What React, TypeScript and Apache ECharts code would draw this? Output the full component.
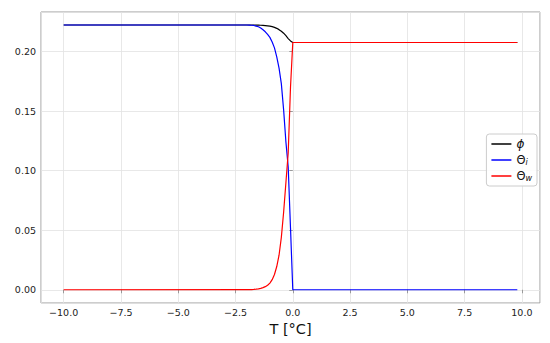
import React, { useEffect, useRef } from "react";
import * as echarts from "echarts";

// Temperature samples (°C)
const temperature = [-10, -2.0, -1.9, -1.8, -1.7, -1.6, -1.5, -1.4, -1.3, -1.2, -1.1, -1.0, -0.9, -0.8, -0.7, -0.6, -0.5, -0.4, -0.3, -0.2, -0.1, 0.0, 9.8];
// Porosity phi
const phiValues = [0.2222, 0.2222, 0.2222, 0.2222, 0.2222, 0.2221, 0.2221, 0.2220, 0.2219, 0.2217, 0.2215, 0.2212, 0.2208, 0.2202, 0.2194, 0.2183, 0.2170, 0.2153, 0.2132, 0.2108, 0.2088, 0.2075, 0.2075];
// Ice content Theta_i
const thetaIValues = [0.2222, 0.2222, 0.2221, 0.2220, 0.2218, 0.2213, 0.2207, 0.2196, 0.2182, 0.2165, 0.2143, 0.2118, 0.2080, 0.2030, 0.1955, 0.1860, 0.1730, 0.1510, 0.1240, 0.1030, 0.0520, 0, 0];
// Water content Theta_w
const thetaWValues = [0, 0.0001, 0.0001, 0.0002, 0.0003, 0.0005, 0.0008, 0.0012, 0.0018, 0.0026, 0.0038, 0.0056, 0.0085, 0.0128, 0.0195, 0.0290, 0.0440, 0.0650, 0.0900, 0.1150, 0.1700, 0.2075, 0.2075];

const seriesNames = ["phi", "thetaI", "thetaW"];
const seriesColors = ["#000000", "#0000ff", "#ff0000"];

const zip = (ys: number[]) => temperature.map((t, i) => [t, ys[i]]);

const FONT = "DejaVu Sans";

export default function App() {
  const ref = useRef<HTMLDivElement>(null);
  useEffect(() => {
    if (!ref.current) return;
    const chart = echarts.init(ref.current, undefined, { renderer: "svg" });
    const values = [phiValues, thetaIValues, thetaWValues];
    const fmtMinus = (s: string) => s.replace("-", "\u2212");
    chart.setOption({
      animation: false,
      backgroundColor: "#ffffff",
      grid: {
        left: 41,
        right: 10,
        top: 12,
        bottom: 40,
        show: true,
        borderColor: "#9a9a9a",
        borderWidth: 1,
        backgroundColor: "transparent",
      },
      legend: {
        orient: "vertical",
        right: 13,
        top: 134,
        itemWidth: 20,
        itemHeight: 1.5,
        itemGap: 3,
        icon: "rect",
        padding: [4, 5, 4, 5],
        backgroundColor: "rgba(255,255,255,0.85)",
        borderColor: "#cccccc",
        borderWidth: 1,
        borderRadius: 3,
        data: seriesNames,
        formatter: (name: string) => {
          if (name === "phi") return "{p|ϕ}";
          if (name === "thetaI") return "{t|Θ}{s|i}";
          return "{t|Θ}{s|w}";
        },
        textStyle: {
          fontFamily: FONT,
          color: "#111",
          padding: [0, 0, 0, 0],
          rich: {
            p: { fontFamily: FONT, fontStyle: "italic", fontSize: 12, color: "#111", lineHeight: 12 },
            t: { fontFamily: FONT, fontSize: 11.5, color: "#111", lineHeight: 12 },
            s: { fontFamily: FONT, fontStyle: "italic", fontSize: 8, color: "#111", verticalAlign: "bottom", lineHeight: 12, padding: [5, 0, 0, 0] },
          },
        },
      },
      xAxis: {
        type: "value",
        min: -10.99,
        max: 10.79,
        splitNumber: 8,
        minInterval: 2.5,
        maxInterval: 2.5,
        name: "T [°C]",
        nameLocation: "middle",
        nameGap: 18,
        nameTextStyle: { fontFamily: FONT, fontSize: 14.5, color: "#111" },
        axisLine: { show: false },
        axisTick: { show: true, length: 3.5, lineStyle: { color: "#9a9a9a" } },
        axisLabel: {
          showMinLabel: false,
          showMaxLabel: false,
          margin: 4,
          fontFamily: FONT,
          fontSize: 9.5,
          color: "#222",
          formatter: (v: number) => fmtMinus(v.toFixed(1)),
        },
        splitLine: { show: true, lineStyle: { color: "#e2e2e2", width: 0.8 } },
      },
      yAxis: {
        type: "value",
        min: -0.0111,
        max: 0.2331,
        splitNumber: 5,
        minInterval: 0.05,
        maxInterval: 0.05,
        axisLine: { show: false },
        axisTick: { show: true, length: 3.5, lineStyle: { color: "#9a9a9a" } },
        axisLabel: {
          showMinLabel: false,
          showMaxLabel: false,
          margin: 5,
          fontFamily: FONT,
          fontSize: 9.5,
          color: "#222",
          formatter: (v: number) => fmtMinus(v.toFixed(2)),
        },
        splitLine: { show: true, lineStyle: { color: "#e2e2e2", width: 0.8 } },
      },
      series: seriesNames.map((n, i) => ({
        name: n,
        type: "line",
        data: zip(values[i]),
        showSymbol: false,
        symbol: "none",
        color: seriesColors[i],
        lineStyle: { color: seriesColors[i], width: 1.2 },
        z: 2 + i,
      })),
    });
    return () => chart.dispose();
  }, []);
  return (
    <div
      ref={ref}
      style={{ position: "fixed", left: 0, top: 0, width: 550, height: 343, background: "#fff" }}
    />
  );
}
